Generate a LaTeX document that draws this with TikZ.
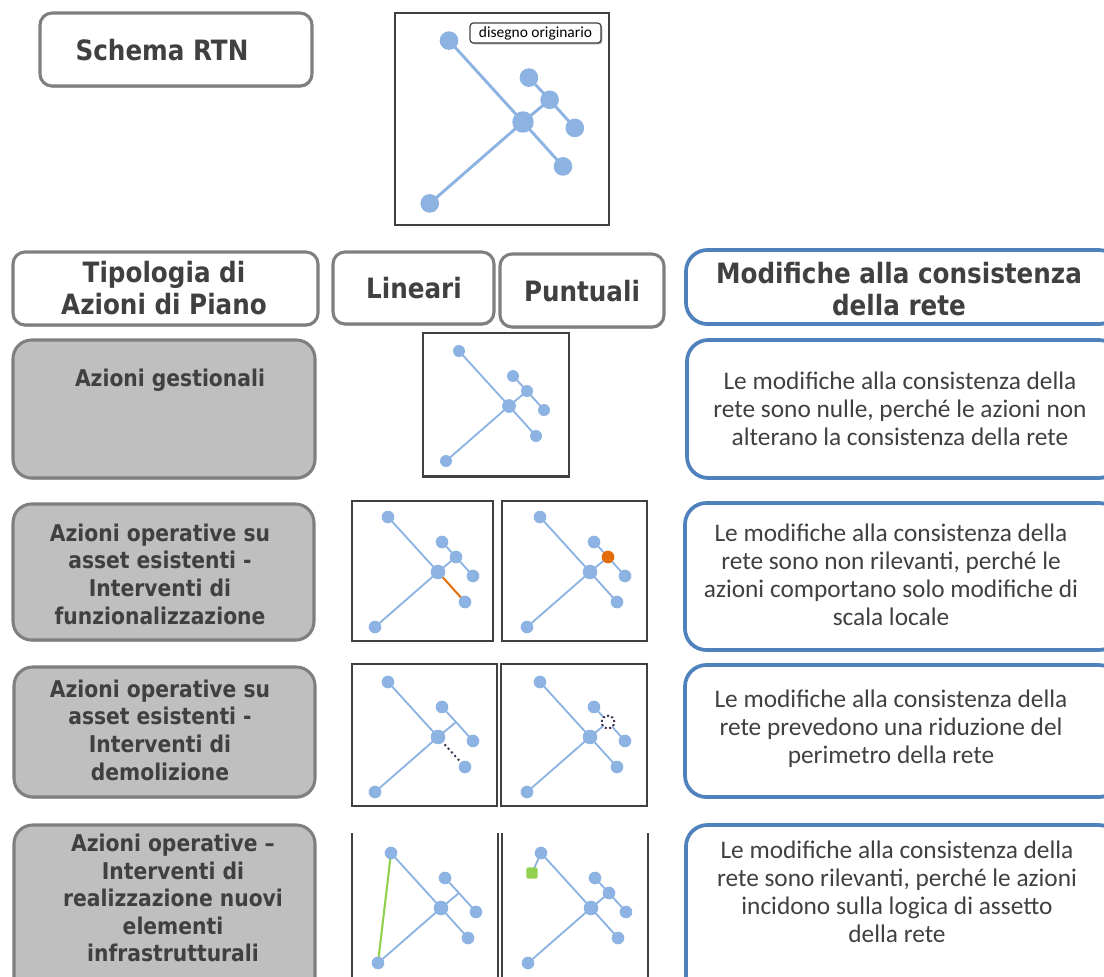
\documentclass[tikz,border=0pt]{standalone}
\usepackage{fontspec}
\usetikzlibrary{shadows}
\newfontfamily\hdrfont[FakeStretch=0.88]{DejaVu Sans}
\newfontfamily\descfont{Carlito}

\definecolor{ink}{HTML}{404040}
\definecolor{frameGray}{HTML}{7F7F7F}
\definecolor{fillGray}{HTML}{BFBFBF}
\definecolor{boxBlue}{HTML}{4F81BD}
\definecolor{netBlue}{HTML}{8DB3E2}
\definecolor{cutOrange}{HTML}{E46C0A}
\definecolor{demPurple}{HTML}{403152}
\definecolor{newGreen}{HTML}{92D050}

\pgfdeclarelayer{bg}
\pgfsetlayers{bg,main}

\tikzset{
  sized/.style 2 args={minimum width=#1*0.75pt, minimum height=#2*0.75pt, inner sep=0pt},
  softshadow/.style={drop shadow={shadow xshift=0.5pt, shadow yshift=-1.2pt, fill=black, opacity=0.3}},
  headbox/.style={draw=frameGray, line width=2.3pt, fill=white, rounded corners=9pt, softshadow},
  graybox/.style={draw=frameGray, line width=2.3pt, fill=fillGray, rounded corners=14pt, softshadow},
  bluebox/.style={draw=boxBlue, line width=2.8pt, fill=white, rounded corners=16pt, softshadow},
  panel/.style={draw=ink, line width=1.4pt},
  headtxt/.style={text=ink, align=center, inner sep=0pt, font=\hdrfont\bfseries\fontsize{21pt}{24pt}\selectfont},
  rowtxt/.style={text=ink, align=center, inner sep=0pt, font=\hdrfont\bfseries\fontsize{17.3pt}{20.7pt}\selectfont},
  desctxt/.style={text=ink, align=center, inner sep=0pt, font=\descfont\fontsize{19pt}{21pt}\selectfont},
  dot/.style={circle, fill=netBlue, inner sep=0pt, minimum size=#1},
  junction/.style={fill=none, draw=none},
  dotring/.style={fill=white, draw=demPurple, line width=1.5pt, dash pattern=on 1.5pt off 1.8pt},
  link/.style={draw=netBlue, line width=1.4pt},
  cutlink/.style={draw=cutOrange, line width=1.5pt},
  demlink/.style={draw=demPurple, line width=1.5pt, dash pattern=on 1.5pt off 2.2pt},
  newlink/.style={draw=newGreen, line width=1.6pt},
  newsq/.style={fill=newGreen, inner sep=0pt, minimum size=8.5pt, rounded corners=1.5pt},
  tag/.style={draw=ink, line width=0.9pt, fill=white, rounded corners=2.5pt,
    drop shadow={shadow xshift=1pt, shadow yshift=-1pt, fill=black, opacity=0.35}},
}

% network nodes: prefix, centre x, centre y, spread, dot size, options of the middle branch node
\newcommand\netnodes[6]{%
  \begin{scope}[shift={(#2,#3)}, scale=#4]
    \node[dot=1.15*#5] (#1-c) at (0,0) {};
    \node[dot=#5] (#1-tl) at (-50,-55) {};
    \node[dot=#5] (#1-us) at (4,-30) {};
    \node[dot=#5, #6] (#1-mid) at (18,-15) {};
    \node[dot=#5] (#1-rt) at (35,4) {};
    \node[dot=#5] (#1-lr) at (27,30) {};
    \node[dot=#5] (#1-bl) at (-63,55) {};
  \end{scope}}

% network links: prefix, style of the hub to lower-right link
\newcommand\netedges[2]{%
  \begin{pgfonlayer}{bg}
    \draw[link] (#1-c.center) -- (#1-tl.center);
    \draw[link] (#1-c.center) -- (#1-bl.center);
    \draw[link] (#1-c.center) -- (#1-mid.center);
    \draw[link] (#1-mid.center) -- (#1-us.center);
    \draw[link] (#1-mid.center) -- (#1-rt.center);
    \draw[link, #2] (#1-c.center) -- (#1-lr.center);
  \end{pgfonlayer}}

\begin{document}
\begin{tikzpicture}[x=0.75pt, y=-0.75pt]
\useasboundingbox (0,0) rectangle (1104,976);
\clip (0,0) rectangle (1104,976);

% ---- title and reference network
\node[headbox, sized={272}{73}] (rtn) at (176,49.5) {};
\node[headtxt] (rtn-t) at (162,50) {Schema RTN};

\node[panel, line width=2pt, sized={214}{212}] (orig) at (502,119) {};
\netnodes{o}{523}{122}{1.48}{14pt}{}
\begin{scope}[link/.append style={line width=2.2pt}]
  \netedges{o}{}
\end{scope}
\node[tag, sized={131}{20}] (tag) at (535.5,33) {};
\node[text=black, inner sep=0pt, font=\descfont\fontsize{11.6pt}{12pt}\selectfont] (tag-t) at (535.5,33) {disegno originario};

% ---- column headers
\node[headbox, sized={305}{73}] (tip) at (165.5,288.5) {};
\node[headtxt] (tip-t) at (164,288) {Tipologia di\\Azioni di Piano};
\node[headbox, sized={161}{72}] (lin) at (413.5,288) {};
\node[headtxt] (lin-t) at (414,288) {Lineari};
\node[headbox, sized={164}{73}] (pun) at (582,290.5) {};
\node[headtxt] (pun-t) at (582,291) {Puntuali};
\node[bluebox, sized={434}{74}] (mod) at (903,287) {};
\node[headtxt] (mod-t) at (899,289) {Modifiche alla consistenza\\della rete};

% ---- row 1: management actions
\node[graybox, sized={302}{138}] (g1) at (164,409) {};
\node[rowtxt] (g1-t) at (170,380) {Azioni gestionali};
\node[panel, line width=1pt, sized={146}{143}] (f1) at (496,404.5) {};
\draw[ink, line width=1.6pt] (f1.south west) -- (f1.south east);
\netnodes{r1}{509}{406}{1}{9pt}{}
\netedges{r1}{}
\node[bluebox, sized={433}{138}] (b1) at (903.5,409) {};
\node[desctxt] (b1-t) at (900,408.5) {Le modifiche alla consistenza della\\rete sono nulle, perché le azioni non\\alterano la consistenza della rete};

% ---- row 2: functional upgrades
\node[graybox, sized={301}{136}] (g2) at (163.5,572) {};
\node[rowtxt] (g2-t) at (160,574) {Azioni operative su\\asset esistenti -\\Interventi di\\funzionalizzazione};
\node[panel, sized={141}{140}] (f2l) at (422.5,571) {};
\node[panel, sized={145}{140}] (f2p) at (574.5,571) {};
\netnodes{l2}{438}{572}{1}{9.5pt}{}
\netedges{l2}{cutlink}
\netnodes{p2}{590}{572}{1}{9.5pt}{fill=cutOrange}
\netedges{p2}{}
\node[bluebox, sized={435}{147}] (b2) at (902.5,576.5) {};
\node[desctxt] (b2-t) at (891,575) {Le modifiche alla consistenza della\\rete sono non rilevanti, perché le\\azioni comportano solo modifiche di\\scala locale};

% ---- row 3: demolitions
\node[graybox, sized={301}{130}] (g3) at (164.5,732) {};
\node[rowtxt] (g3-t) at (160,730) {Azioni operative su\\asset esistenti -\\Interventi di\\demolizione};
\node[panel, sized={145}{142}] (f3l) at (424.5,735) {};
\node[panel, sized={146}{142}] (f3p) at (574,735) {};
\netnodes{l3}{438}{737}{1}{9.5pt}{junction}
\netedges{l3}{demlink}
\netnodes{p3}{590}{737}{1}{9.5pt}{dotring}
\netedges{p3}{}
\node[bluebox, sized={435}{132}] (b3) at (902.5,731) {};
\node[desctxt] (b3-t) at (891,729) {Le modifiche alla consistenza della\\rete prevedono una riduzione del\\perimetro della rete};

% ---- row 4: new infrastructure
\node[graybox, sized={301}{175}] (g4) at (164.5,912.5) {};
\node[rowtxt] (g4-t) at (173,898) {Azioni operative –\\Interventi di\\realizzazione nuovi\\elementi\\infrastrutturali};
\coordinate (f4a) at (352,833); \coordinate (f4a') at (352,990);
\coordinate (f4b) at (498,833); \coordinate (f4b') at (498,990);
\coordinate (f4c) at (502,833); \coordinate (f4c') at (502,990);
\coordinate (f4d) at (648,833); \coordinate (f4d') at (648,990);
\draw[panel] (f4a) -- (f4a');
\draw[panel] (f4b) -- (f4b');
\draw[panel] (f4c) -- (f4c');
\draw[panel] (f4d) -- (f4d');
\netnodes{l4}{441}{908}{1}{9.5pt}{junction}
\netedges{l4}{}
\begin{pgfonlayer}{bg}
  \draw[newlink] (l4-tl.center) -- (l4-bl.center);
\end{pgfonlayer}
\netnodes{p4}{591}{908}{1}{9.5pt}{}
\netedges{p4}{}
\node[newsq] (p4-new) at (532,873) {};
\begin{pgfonlayer}{bg}
  \draw[link] (p4-tl.center) -- (p4-new.center);
\end{pgfonlayer}
\node[bluebox, sized={434}{175}] (b4) at (903,912.5) {};
\node[desctxt] (b4-t) at (897,892) {Le modifiche alla consistenza della\\rete sono rilevanti, perché le azioni\\incidono sulla logica di assetto\\della rete};
\end{tikzpicture}
\end{document}
